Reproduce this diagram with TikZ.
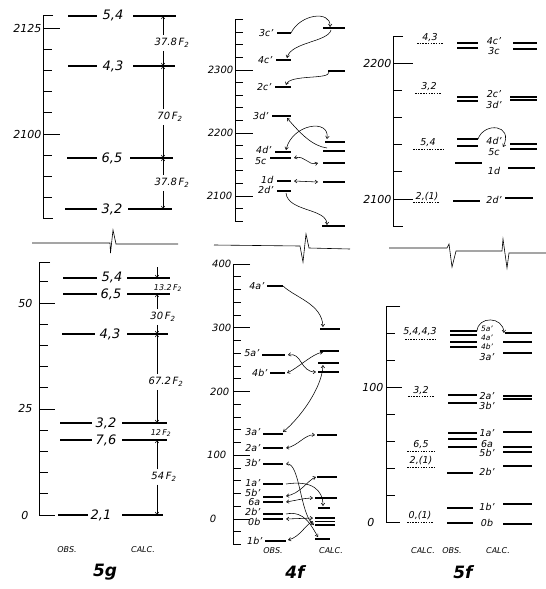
\documentclass[tikz,border=0pt]{standalone}
\usepackage{fontspec}
\setsansfont{DejaVu Sans}
\usepackage{tikz}
\usetikzlibrary{arrows.meta,calc,positioning}

\begin{document}
\begin{tikzpicture}[x=1pt,y=-1pt,
  >={Straight Barb[length=2.5pt,width=3.5pt]},
  axis/.style={line width=0.9pt},
  lvl/.style={line width=1.2pt},
  heavy/.style={line width=1.9pt},
  calcdot/.style={line width=0.8pt, dash pattern=on 1.5pt off 1.2pt},
  brk/.style={line width=0.6pt},
  link/.style={line width=0.55pt},
  dim/.style={line width=0.55pt, ->},
  num/.style={font=\sffamily\itshape\fontsize{11}{11}\selectfont, inner sep=0.5pt},
  smallnum/.style={font=\sffamily\itshape\fontsize{10}{10}\selectfont, inner sep=0.5pt},
  big/.style={font=\sffamily\itshape\fontsize{13}{13}\selectfont, inner sep=0.5pt},
  lab/.style={font=\sffamily\itshape\fontsize{9.5}{9.5}\selectfont, inner sep=0.5pt},
  tiny/.style={font=\sffamily\itshape\fontsize{7.5}{7.5}\selectfont, inner sep=0.5pt},
  colhead/.style={font=\sffamily\itshape\fontsize{8}{8}\selectfont, inner sep=0.5pt},
  dimlbl/.style={font=\sffamily\itshape\fontsize{10}{10}\selectfont, inner sep=3pt},
  paneltitle/.style={font=\sffamily\bfseries\itshape\fontsize{17}{17}\selectfont, inner sep=0pt},
]
\useasboundingbox (0,0) rectangle (546,589);

% ---------- 5g, upper part ----------
\draw[axis] (53,15) -- (43,15) -- (43,218.8) -- (53,218.8);
\foreach \k in {1,...,8} \draw[axis] (43,{28+\k*21.2}) -- ++(9,0);
\draw[axis] (43,28) -- ++(17,0);
\draw[axis] (43,134) -- ++(17,0);
\node[num,anchor=east] (g2125) at (42,28) {2125};
\node[num,anchor=east] (g2100) at (42,134) {2100};

\draw[lvl] (68,16) -- (97,16);  \node[big] (gu54) at (113,16) {5,4};  \draw[lvl] (133,16) -- (176,16) coordinate (ru54);
\draw[lvl] (68,66) -- (97,66);  \node[big] (gu43) at (113,66) {4,3};  \draw[lvl] (133,66) -- (175,66) coordinate (ru43);
\draw[lvl] (67,158) -- (97,158); \node[big] (gu65) at (112,158) {6,5}; \draw[lvl] (130,158) -- (173,158) coordinate (ru65);
\draw[lvl] (65,209) -- (97,209); \node[big] (gu32) at (112,209) {3,2}; \draw[lvl] (128,209) -- (172,209) coordinate (ru32);

% spacings
\coordinate (dxu) at (163,0);
\node[dimlbl] (du1) at (172,43) {37.8\,F\textsubscript{2}};
\node[dimlbl] (du2) at (170,117) {70\,F\textsubscript{2}};
\node[dimlbl] (du3) at (172,183) {37.8\,F\textsubscript{2}};
\draw[dim] (du1.north -| dxu) -- (dxu |- ru54);
\draw[dim] (du1.south -| dxu) -- (dxu |- ru43);
\draw[dim] (du2.north -| dxu) -- (dxu |- ru43);
\draw[dim] (du2.south -| dxu) -- (dxu |- ru65);
\draw[dim] (du3.north -| dxu) -- (dxu |- ru65);
\draw[dim] (du3.south -| dxu) -- (dxu |- ru32);

% break
\draw[brk] (32,243) -- (110,243) -- (110.5,253) -- (113,230) -- (116,244) -- (178,244);

% ---------- 5g, lower part ----------
\draw[axis] (50,262) -- (39,262) -- (39,515) -- (55,515);
\foreach \k in {1,...,11} \draw[axis] (39,{515-\k*21.2}) -- ++(9,0);
\draw[axis] (39,303) -- ++(16,0);
\draw[axis] (39,409) -- ++(16,0);
\node[num,anchor=east] (g50) at (33,303) {50};
\node[num,anchor=east] (g25) at (33,408) {25};
\node[num,anchor=east] (g0) at (29,515) {0};

\draw[lvl] (63,278) -- (97,278); \node[big] (gl54) at (112,278) {5,4}; \draw[lvl] (127,278) -- (170,278) coordinate (rl54);
\draw[lvl] (63,294) -- (97,294); \node[big] (gl65) at (111,294) {6,5}; \draw[lvl] (127,294) -- (170,294) coordinate (rl65);
\draw[lvl] (62,334) -- (95,334); \node[big] (gl43) at (110,334) {4,3}; \draw[lvl] (127,334) -- (168,334) coordinate (rl43);
\draw[lvl] (60,423) -- (92,423); \node[big] (gl32) at (106,423) {3,2}; \draw[lvl] (122,423) -- (167,423) coordinate (rl32);
\draw[lvl] (60,440) -- (92,440); \node[big] (gl76) at (106,440) {7,6}; \draw[lvl] (122,440) -- (167,440) coordinate (rl76);
\draw[lvl] (58,515) -- (88,515); \node[big] (gl21) at (101,515) {2,1}; \draw[lvl] (122,515) -- (163,515) coordinate (rl21);

% spacings
\coordinate (dxl) at (157,0);
\coordinate (e54) at (157,267);
\node[dimlbl,font=\sffamily\itshape\fontsize{8}{8}\selectfont] (dl1) at (168,288) {13.2\,F\textsubscript{2}};
\node[dimlbl] (dl2) at (163,317) {30\,F\textsubscript{2}};
\node[dimlbl] (dl3) at (166,382) {67.2\,F\textsubscript{2}};
\node[dimlbl,font=\sffamily\itshape\fontsize{8}{8}\selectfont] (dl4) at (161,433) {12\,F\textsubscript{2}};
\node[dimlbl] (dl5) at (164,477) {54\,F\textsubscript{2}};
\draw[dim] (e54) -- (dxl |- rl54);
\draw[dim] (dl2.north -| dxl) -- (dxl |- rl65);
\draw[dim] (dl2.south -| dxl) -- (dxl |- rl43);
\draw[dim] (dl3.north -| dxl) -- (dxl |- rl43);
\draw[dim] (dl3.south -| dxl) -- (dxl |- rl32);
\draw[dim] (dl5.north -| dxl) -- (dxl |- rl76);
\draw[dim] (dl5.south -| dxl) -- (dxl |- rl21);

\node[colhead] (obs5g) at (67,550) {OBS.};
\node[colhead] (calc5g) at (143,550) {CALC.};
\node[paneltitle] (t5g) at (105,572) {5g};

% ---------- 4f, upper part ----------
\draw[axis] (243,19.6) -- (235,19.6) -- (235,221.2) -- (243,221.2);
\foreach \k in {-3,...,11} \draw[axis] (235,{70+\k*12.6}) -- ++(8,0);
\foreach \t in {70,133,196} \draw[axis] (235,\t) -- ++(18,0);
\node[smallnum,anchor=east] (f2300) at (234,70) {2300};
\node[smallnum,anchor=east] (f2200) at (234,133) {2200};
\node[smallnum,anchor=east] (f2100) at (233,196) {2100};

\foreach \n/\t/\y/\ly/\a in {c3/3c'/33/33/277, c4/4c'/60/60/276, c2/2c'/87/87/275, d3/3d'/116/116/272,
    d4/4d'/152/150/275, c5/5c/158/161/270, d1/1d/181/180/277, d2/2d'/191/190/277}{
  \draw[lvl] (\a,\y) -- (291,\y) coordinate (o\n);
  \node[lab,anchor=east] (t\n) at (\a-3,\ly) {\t};
}
\draw[heavy] (323,28) coordinate (k1) -- (345,28);
\foreach \n/\y/\a in {2/71/328, 3/142/325, 4/151/323, 5/163/323, 6/182/323, 7/226/322}
  \draw[lvl] (\a,\y) coordinate (k\n) -- (345,\y);

\draw[link,->] (oc3) .. controls (300,14) and (331,10) .. ([shift={(7,-1)}]k1);
\draw[link,->] ([shift={(8,2)}]k1) .. controls (328,42) and (291,42) .. ([shift={(-4,-2)}]oc4);
\draw[link,->] ([shift={(1,1)}]k2) .. controls (330,80) and (290,74) .. ([shift={(-5,-2)}]oc2);
\draw[link,->] ([shift={(4,-3)}]k4) .. controls (312,146) and (300,133) .. ([shift={(-4,2)}]od3);
\draw[link,<->] ([shift={(-5,-2)}]od4) .. controls (292,124) and (330,118) .. ([shift={(2,-3)}]k3);
\draw[link,<->] ([shift={(3,0)}]oc5) .. controls (306,155) and (307,166) .. ([shift={(-5,0)}]k5);
\draw[link,<->] ([shift={(3,0)}]od1) -- ([shift={(-5,0)}]k6);
\draw[link,->] ([shift={(-5,2)}]od2) .. controls (288,212) and (327,208) .. ([shift={(5,-1)}]k7);

% break
\draw[brk] (214,245) -- (300,246) -- (303,262) -- (306,234) -- (309,248) -- (350,249);

% ---------- 4f, lower part ----------
\draw[axis] (250,264) -- (233,264) -- (233,544.5) -- (241,544.5);
\foreach \k in {1,...,21} \draw[axis] (233,{264+\k*12.75}) -- ++(8,0);
\foreach \k in {5,10,15,20} \draw[axis] (233,{264+\k*12.75}) -- ++(17,0);
\node[smallnum,anchor=east] (f400) at (232,264) {400};
\node[smallnum,anchor=east] (f300) at (232,328) {300};
\node[smallnum,anchor=east] (f200) at (230,392) {200};
\node[smallnum,anchor=east] (f100) at (227,455) {100};
\node[smallnum,anchor=east] (f0) at (217,519) {0};

\foreach \n/\t/\y/\ly/\a/\b in {a4/4a'/286/286/267/283, a5/5a'/355/353/262/285, b4/4b'/373/373/270/285,
    a3/3a'/434/432/263/283, a2/2a'/448/448/263/283, b3/3b'/464/463/263/283, a1/1a'/484/483/263/283,
    b5/5b'/497/493/263/283, a6/6a/502/502.5/263/283, b2/2b'/514/512/263/283, b0/0b/519/522/263/283,
    b1/1b'/541/541/265/286}{
  \draw[lvl] (\a,\y) -- (\b,\y) coordinate (o\n);
  \node[lab,anchor=east] (t\n) at (\a-2,\ly) {\t};
}
\foreach \n/\y/\a/\b in {1/329/320/340, 2/351/320/339, 3/363/318/339, 4/372/318/339, 5/435/317/337,
    6/477/317/337, 7/498/315/337, 8/508/318/330, 9/518/315/335, 10/521.5/315/335, 11/525/315/335, 12/539/315/330}
  \draw[lvl] (\a,\y) coordinate (m\n) -- (\b,\y);

\draw[link,->] (oa4) .. controls (296,298) and (322,304) .. ([shift={(3,-2)}]m1);
\draw[link,<->] ([shift={(3,0)}]oa5) .. controls (302,352) and (300,372) .. ([shift={(-2,0)}]m4);
\draw[link,<->] ([shift={(2,0)}]ob4) .. controls (298,368) and (312,354) .. ([shift={(3,1)}]m2);
\draw[link,<->] ([shift={(0,-2)}]oa3) .. controls (300,418) and (322,388) .. ([shift={(5,2)}]m3);
\draw[link,<->] ([shift={(3,0)}]oa2) .. controls (298,446) and (305,434) .. ([shift={(-2,0)}]m5);
\draw[link,<->] ([shift={(3,0)}]ob3) .. controls (300,462) and (300,515) .. ([shift={(-1,0)}]m11);
\draw[link,->] ([shift={(3,0)}]oa1) .. controls (312,480) and (323,490) .. ([shift={(5,-2)}]m8);
\draw[link,<->] ([shift={(3,-1)}]ob5) .. controls (300,494) and (308,480) .. ([shift={(-1,0)}]m6);
\draw[link,<->] ([shift={(3,0)}]oa6) .. controls (298,500) and (305,498) .. ([shift={(-2,0)}]m7);
\draw[link,->] ([shift={(3,0)}]ob2) .. controls (305,510) and (312,527) .. ([shift={(3,-2)}]m12);
\draw[link,<->] ([shift={(3,0)}]ob0) -- ([shift={(-2,0)}]m9);
\draw[link,<->] ([shift={(2,-1)}]ob1) .. controls (300,537) and (306,524) .. ([shift={(-2,0)}]m10);

\node[colhead] (obs4f) at (273,551) {OBS.};
\node[colhead] (calc4f) at (331,551) {CALC.};
\node[paneltitle] (t4f) at (295,572) {4f};

% ---------- 5f, upper part ----------
\draw[axis] (403,36) -- (393,36) -- (393,226) -- (403,226);
\foreach \k in {1,...,4} \draw[axis] (393,{63+\k*27.2}) -- ++(9,0);
\draw[axis] (393,63) -- ++(20,0);
\draw[axis] (393,199) -- ++(20,0);
\node[num,anchor=east] (h2200) at (392,63) {2200};
\node[num,anchor=east] (h2100) at (392,199) {2100};

\draw[calcdot] (417,43) coordinate (q1) -- (443,43); \node[lab] (tq1) at (430,38) {4,3};
\draw[calcdot] (415,93) coordinate (q2) -- (442,93); \node[lab] (tq2) at (429,87) {3,2};
\draw[calcdot] (413,149) coordinate (q3) -- (443,149); \node[lab] (tq3) at (428,143) {5,4};
\draw[calcdot] (413,202) coordinate (q4) -- (440,202); \node[lab] (tq4) at (427,197) {2,(1)};

\foreach \n/\y/\a/\b in {1/43/457/478, 2/48/457/478, 3/97/457/478, 4/101/457/478, 5/139/457/478,
    6/146/457/478, 7/163/455/482, 8/201/453/480}
  \draw[lvl] (\a,\y) -- (\b,\y) coordinate (s\n);
\foreach \n/\t/\y in {1/4c'/41, 2/3c/51, 3/2c'/94, 4/3d'/105, 5/4d'/141, 6/5c/152, 7/1d/171, 8/2d'/200}
  \node[lab] (ts\n) at (494,\y) {\t};
\foreach \n/\y/\a/\b in {1/43/513/537, 2/49/513/537, 3/97/510/537, 4/100/510/537, 5/144/510/537,
    6/149/510/537, 7/168/508/535, 8/198/505/533}
  \draw[lvl] (\a,\y) coordinate (u\n) -- (\b,\y);

\draw[link,->] (s5) .. controls (484,122) and (514,124) .. ([shift={(-7,3)}]u5);

% break
\draw[brk] (389,248) -- (447,248) -- (449,244) -- (452,267) -- (456,251) -- (502,251)
  -- (503,239) -- (507,268) -- (509,253) -- (546,253);

% ---------- 5f, lower part ----------
\draw[axis] (400,306) -- (386,306) -- (386,522) -- (400,522);
\foreach \k in {1,...,7} \draw[axis] (386,{522-\k*27}) -- ++(9,0);
\draw[axis] (386,387) -- ++(16,0);
\node[num,anchor=east] (h100) at (384,387) {100};
\node[num,anchor=east] (h0) at (375,522) {0};

\draw[calcdot] (405,339) coordinate (p1) -- (437,339); \node[lab] (tp1) at (420,332) {5,4,4,3};
\draw[calcdot] (408,396) coordinate (p2) -- (435,396); \node[lab] (tp2) at (421,391) {3,2};
\draw[calcdot] (407,451) coordinate (p3) -- (435,451); \node[lab] (tp3) at (421,445) {6,5};
\draw[calcdot] (407,467) coordinate (p4) -- (435,467); \node[lab] (tp4) at (421,461) {2,(1)};
\draw[calcdot] (407,522) coordinate (p5) -- (433,522); \node[lab] (tp5) at (420,516) {0,(1)};

\foreach \n/\y/\a/\b in {1/331/450/477, 2/335/450/477, 3/342/450/477, 4/347/450/477, 5/395/448/477,
    6/403/448/477, 7/433/448/477, 8/439/448/477, 9/447/448/477, 10/473/447/473, 11/508/447/473, 12/523/447/473}
  \draw[lvl] (\a,\y) -- (\b,\y) coordinate (w\n);
\foreach \n/\t/\y in {1/5a'/329, 2/4a'/338, 3/4b'/347}
  \node[tiny] (tw\n) at (487,\y) {\t};
\foreach \n/\t/\y in {4/3a'/357, 5/2a'/396, 6/3b'/406, 7/1a'/433, 8/6a/444, 9/5b'/453, 10/2b'/472, 11/1b'/507, 12/0b/523}
  \node[lab] (tw\n) at (487,\y) {\t};
\draw[heavy] (505,333) coordinate (v1) -- (532,333);
\foreach \n/\y in {2/342, 3/353, 4/396, 5/399, 6/432, 7/447, 8/452, 9/466, 10/504, 11/524}
  \draw[lvl] (503,\y) coordinate (v\n) -- (532,\y);

\draw[link,->] (w1) .. controls (478,316) and (503,316) .. ([shift={(-1,0)}]v1);

\node[colhead] (calc5fa) at (423,551) {CALC.};
\node[colhead] (obs5f) at (452,551) {OBS.};
\node[colhead] (calc5fb) at (498,551) {CALC.};
\node[paneltitle] (t5f) at (463,572) {5f};
\end{tikzpicture}
\end{document}
